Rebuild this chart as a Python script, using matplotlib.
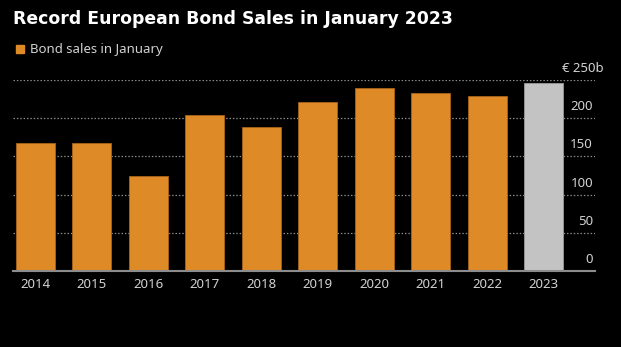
import matplotlib.pyplot as plt
from matplotlib.patches import Rectangle

# Data
years = ['2014', '2015', '2016', '2017', '2018', '2019', '2020', '2021', '2022', '2023']
sales = [168, 168, 124, 204, 188, 221, 239, 233, 229, 246]
ytick_vals = [0, 50, 100, 150, 200, 250]
ytick_labels = ['0', '50', '100', '150', '200', '€ 250b']

W, H = 621, 347
orange = '#DE8B27'
grey_bar = '#C3C3C3'
txt = '#D2D2D2'

fig = plt.figure(figsize=(W / 100, H / 100), dpi=100, facecolor='black')

# axes placed in pixel terms
left, right, bottom, top = 13, 595, 271, 80
ax = fig.add_axes([left / W, (H - bottom) / H, (right - left) / W, (bottom - top) / H])
ax.set_facecolor('black')

x = list(range(len(years)))
colors = [orange] * (len(years) - 1) + [grey_bar]
edges = ['#A8641A'] * (len(years) - 1) + ['#9a9a9a']
ax.bar(x, sales, width=0.69, color=colors, edgecolor=edges, linewidth=0.6, zorder=3)

ax.set_xlim(-0.39, 9.91)
ax.set_ylim(0, 250)

# dotted gridlines
for v in ytick_vals[1:]:
    ax.axhline(v, color='#8a8a8a', lw=0.9, ls=(0, (1.2, 1.5)), zorder=1)

# y labels sitting above gridlines on the right
for v, lab in zip(ytick_vals, ytick_labels):
    xr = 0.9966 if v < 250 else 1.0155
    ax.annotate(lab, xy=(xr, v), xycoords=('axes fraction', 'data'),
                xytext=(0, 5.8), textcoords='offset points',
                ha='right', va='baseline', color=txt, fontsize=9.5,
                family='Noto Sans', annotation_clip=False)

ax.set_xticks(x)
ax.set_xticklabels(years, color=txt, fontsize=9.5, family='Noto Sans')
ax.tick_params(axis='x', length=0, pad=5)
ax.set_yticks([])

for s in ['top', 'right', 'left']:
    ax.spines[s].set_visible(False)
ax.spines['bottom'].set_color('#8c8c8c')
ax.spines['bottom'].set_linewidth(1.5)
ax.spines['bottom'].set_zorder(4)

# title and legend
fig.text(13 / W, 1 - 19 / H, 'Record European Bond Sales in January 2023',
         color='white', fontsize=12.4, fontweight='bold', va='center', ha='left',
         family='DejaVu Sans')
fig.patches.append(Rectangle((16 / W, 1 - 53 / H), 8 / W, 8 / H,
                             transform=fig.transFigure, color=orange))
fig.text(30 / W, 1 - 49 / H, 'Bond sales in January', color=txt, fontsize=9.5,
         va='center', ha='left', family='Noto Sans')

fig.savefig('out.png', dpi=100, facecolor='black')
